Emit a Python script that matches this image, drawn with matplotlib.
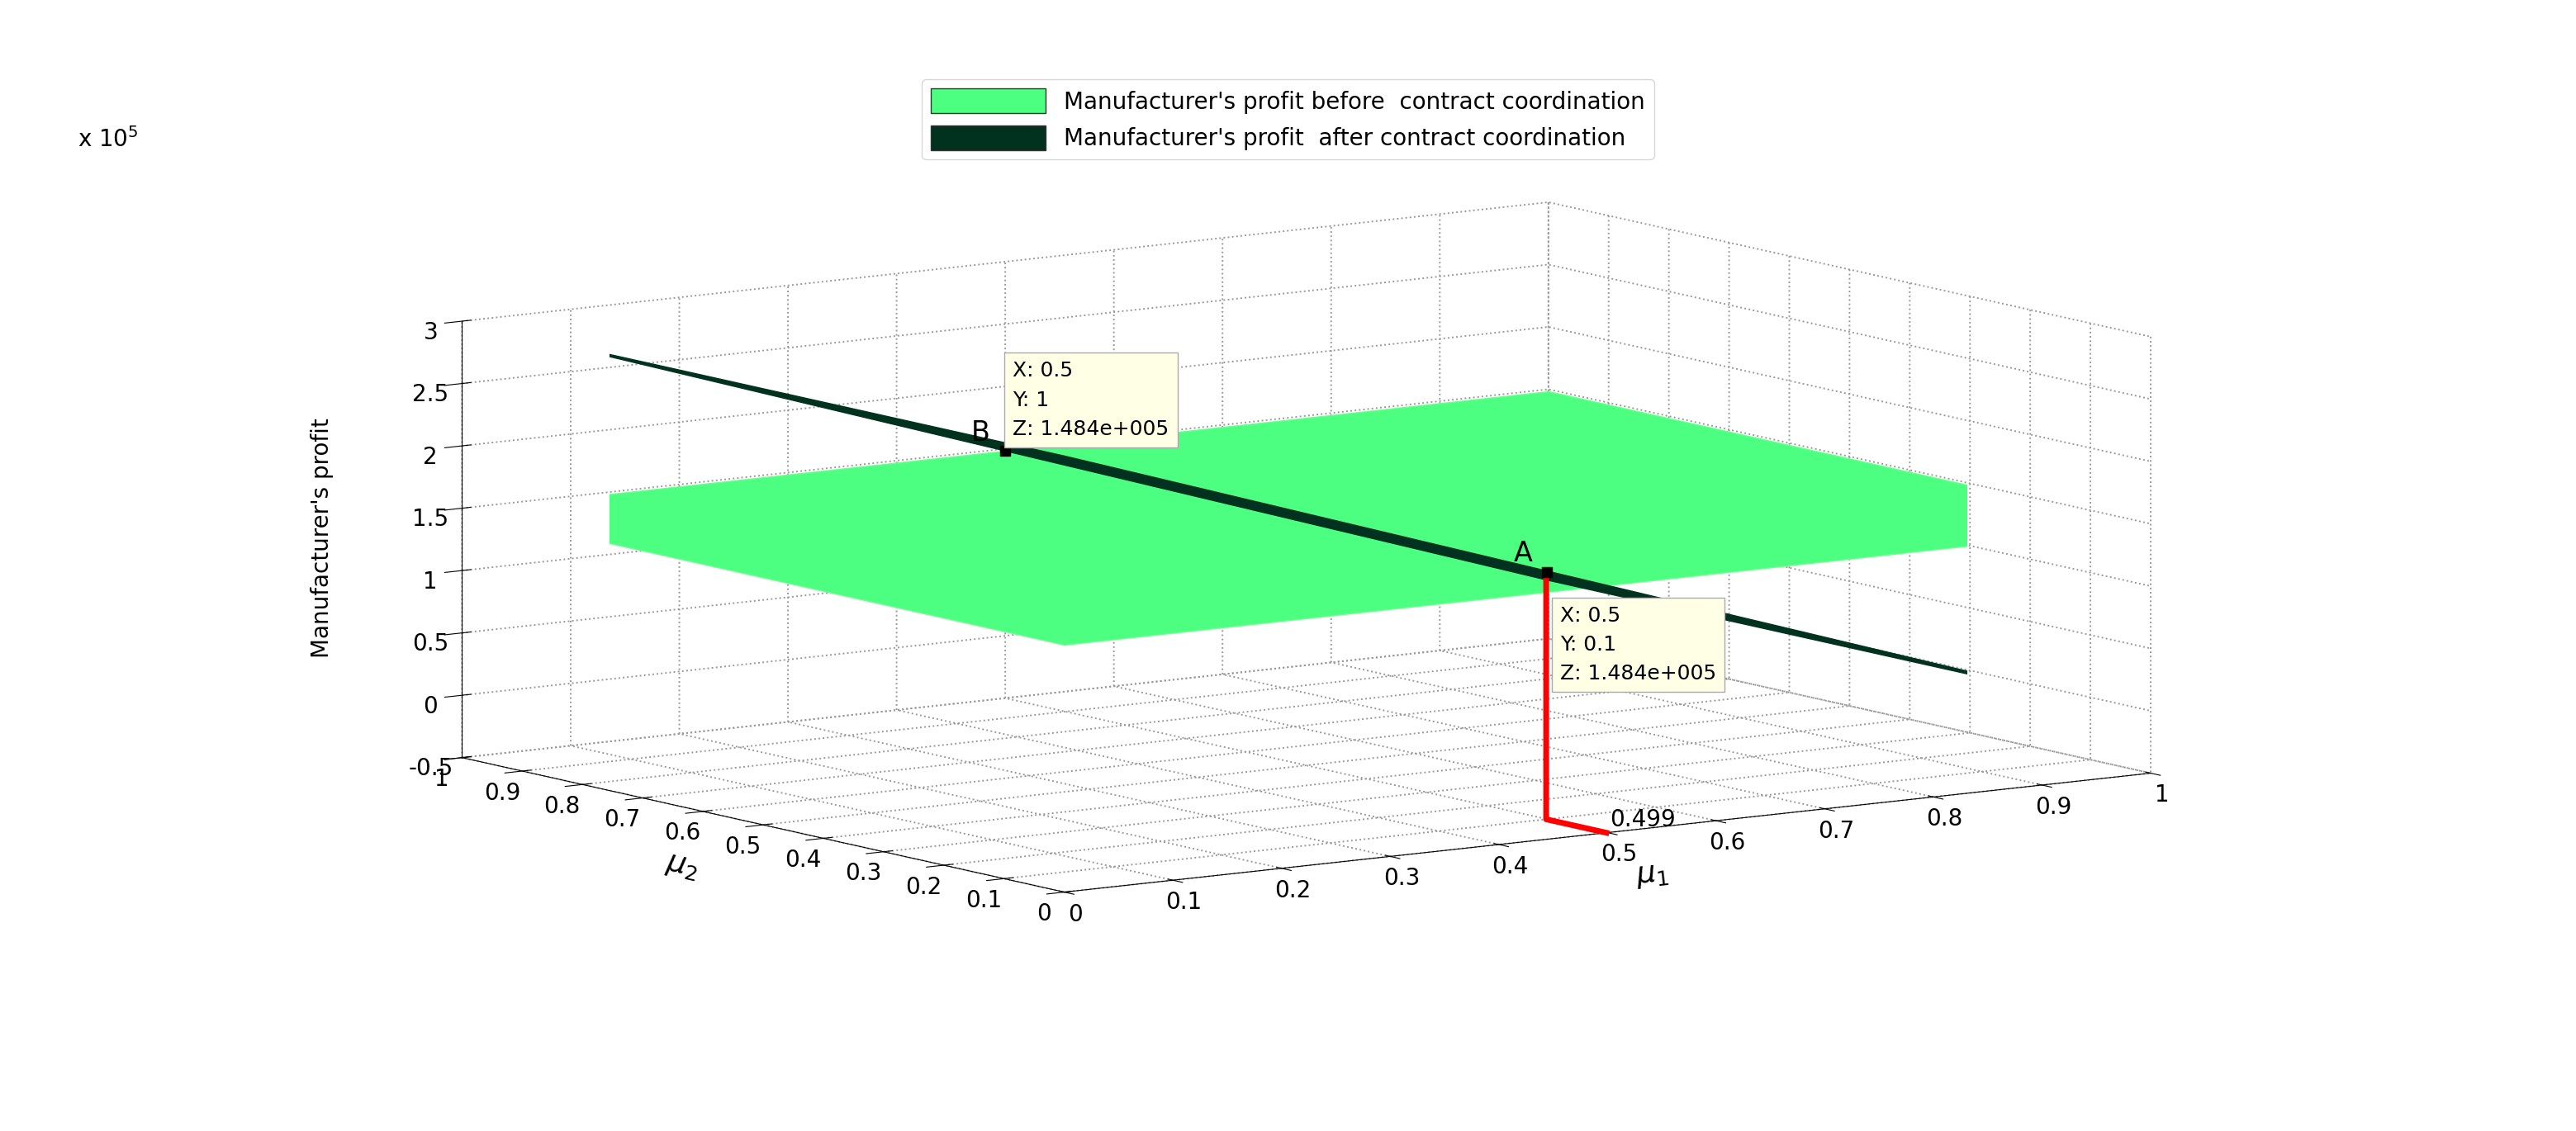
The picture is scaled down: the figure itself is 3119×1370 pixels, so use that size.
import numpy as np
import matplotlib
matplotlib.use("Agg")
import matplotlib.pyplot as plt
from matplotlib.patches import Patch
from mpl_toolkits.mplot3d import proj3d

mu1 = [0.0, 1.0]
mu2 = [0.0, 1.0]
profit_before = 1.484   # x1e5, constant
after_at_mu1 = [3.0, -0.03]  # x1e5 at mu1=0 and mu1=1
pointA = (0.5, 0.1, 1.484)
pointB = (0.5, 1.0, 1.484)
red_x = 0.499
ticks_xy = [0, 0.1, 0.2, 0.3, 0.4, 0.5, 0.6, 0.7, 0.8, 0.9, 1]
ticks_z = [-0.5, 0, 0.5, 1, 1.5, 2, 2.5, 3]

fig = plt.figure(figsize=(31.19, 13.70), dpi=100)
ax = fig.add_subplot(111, projection='3d', computed_zorder=False, proj_type='ortho')
ax.set_position([-0.02, -0.1, 1.04, 1.2])

X, Y = np.meshgrid(mu1, mu2)
Zb = np.full_like(X, profit_before)
Za = np.interp(X, mu1, after_at_mu1)
green = '#4dff80'
dark = '#013220'
ax.plot_surface(X, Y, Zb, color=green, shade=False, edgecolor='#6cff90', linewidth=1, zorder=1)
ax.plot_surface(X, Y, Za, color=dark, shade=False, edgecolor=dark, linewidth=1, zorder=2)

ax.plot([red_x, red_x, red_x], [pointA[1], pointA[1], 0], [pointA[2], -0.5, -0.5], color='red', lw=5, zorder=5)
ax.text(red_x + 0.02, 0.03, -0.5, '0.499', fontsize=20, zorder=6)

for p, lab in [(pointA, 'A'), (pointB, 'B')]:
    ax.scatter([p[0]], [p[1]], [p[2]], color='black', marker='s', s=80, zorder=6)
    ax.text(p[0] - 0.02, p[1] + 0.02, p[2] + 0.08, lab, fontsize=24, zorder=6)

ax.set_xlim(0, 1); ax.set_ylim(0, 1); ax.set_zlim(-0.5, 3)
ax.set_xticks(ticks_xy); ax.set_yticks(ticks_xy); ax.set_zticks(ticks_z)
ax.set_xticklabels([f'{t:g}' for t in ticks_xy], fontsize=20)
ax.set_yticklabels([f'{t:g}' for t in ticks_xy], fontsize=20)
ax.set_zticklabels([f'{t:g}' for t in ticks_z], fontsize=20)
ax.set_xlabel('$\\mu_1$', fontsize=26, labelpad=25)
ax.set_ylabel('$\\mu_2$', fontsize=26, labelpad=25)
ax.set_zlabel("Manufacturer's profit", fontsize=20, labelpad=30)
fig.text(0.03, 0.87, r'x 10$^5$', fontsize=20)

for a in (ax.xaxis, ax.yaxis, ax.zaxis):
    a.set_pane_color((1, 1, 1, 1))
    a._axinfo['grid'].update(color='#999999', linestyle=':', linewidth=1.4)
ax.view_init(elev=9, azim=-125)
ax.set_box_aspect((2.4, 1.9, 0.8), zoom=1.25)

ax.legend(handles=[Patch(fc=green, ec='#333'), Patch(fc=dark, ec='#333')],
          labels=["Manufacturer's profit before  contract coordination",
                  "Manufacturer's profit  after contract coordination"],
          loc='upper center', bbox_to_anchor=(0.5, 0.94), fontsize=20,
          bbox_transform=fig.transFigure, frameon=True, edgecolor='#cccccc', handlelength=5, handleheight=1.3)

fig.canvas.draw()
inv = fig.transFigure.inverted()
def fig_xy(p):
    x2, y2, _ = proj3d.proj_transform(p[0], p[1], p[2], ax.get_proj())
    return inv.transform(ax.transData.transform((x2, y2)))
bx, by = fig_xy(pointB)
fig.text(bx + 0.003, by + 0.01, 'X: 0.5\nY: 1\nZ: 1.484e+005', fontsize=18, va='bottom', linespacing=1.6,
         bbox=dict(boxstyle='square,pad=0.4', fc='#ffffe6', ec='#aaaaaa'))
axx, ayy = fig_xy(pointA)
fig.text(axx + 0.005, ayy - 0.03, 'X: 0.5\nY: 0.1\nZ: 1.484e+005', fontsize=18, va='top', linespacing=1.6,
         bbox=dict(boxstyle='square,pad=0.4', fc='#ffffe6', ec='#aaaaaa'))

fig.savefig('out.png', dpi=100)
